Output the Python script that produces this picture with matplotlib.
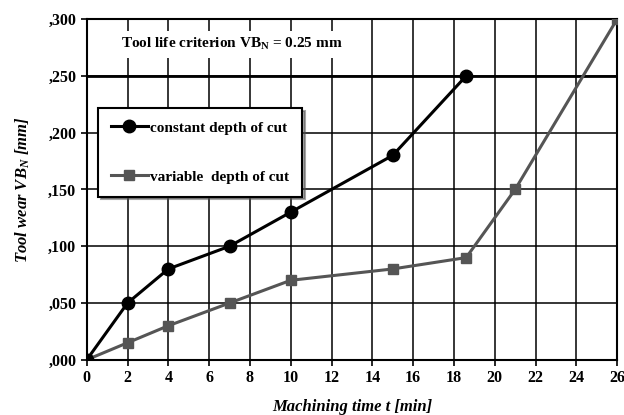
import matplotlib
matplotlib.use("Agg")
import matplotlib.pyplot as plt

# Tool wear data
time_const = [0, 2, 4, 7, 10, 15, 18.6]
wear_const = [0.0, 0.05, 0.08, 0.10, 0.13, 0.18, 0.25]

time_var = [0, 2, 4, 7, 10, 15, 18.6, 21, 26]
wear_var = [0.0, 0.015, 0.03, 0.05, 0.07, 0.08, 0.09, 0.15, 0.30]

x_ticks = list(range(0, 27, 2))
y_ticks = [0.0, 0.05, 0.10, 0.15, 0.20, 0.25, 0.30]
y_tick_labels = [",000", ",050", ",100", ",150", ",200", ",250", ",300"]

criterion = 0.25

plt.rcParams["font.family"] = ["Liberation Serif", "DejaVu Serif"]
plt.rcParams["font.weight"] = "bold"
plt.rcParams["mathtext.fontset"] = "custom"
plt.rcParams["mathtext.rm"] = "Liberation Serif"
plt.rcParams["mathtext.it"] = "Liberation Serif:italic:bold"
plt.rcParams["mathtext.bf"] = "Liberation Serif:bold"

fig = plt.figure(figsize=(6.24, 4.15), dpi=100)
ax = fig.add_axes([0.139, 0.133, 0.850, 0.821])

ax.plot(time_const, wear_const, color="black", lw=2.2, marker="o",
        markersize=9, label="constant depth of cut", zorder=4)
ax.plot(time_var, wear_var, color="#555555", lw=2.2, marker="s",
        markersize=7.5, label="variable  depth of cut", zorder=3)

ax.axhline(criterion, color="black", lw=2.0, zorder=2)
ax.text(1.7, 0.278, "Tool life criterion VB$_\\mathbf{N}$ = 0.25 mm",
        fontsize=11, fontweight="bold", va="center", ha="left",
        bbox=dict(facecolor="white", edgecolor="none", pad=4), zorder=2)

ax.set_xlim(0, 26)
ax.set_ylim(0, 0.30)
ax.set_xticks(x_ticks)
ax.set_yticks(y_ticks)
ax.set_yticklabels(y_tick_labels)
ax.grid(True, color="black", lw=1.1)
ax.set_axisbelow(True)
ax.tick_params(axis="both", labelsize=11.5, length=4, width=1.2, direction="out")
for lab in ax.get_xticklabels() + ax.get_yticklabels():
    lab.set_fontweight("bold")
for sp in ax.spines.values():
    sp.set_linewidth(1.5)

ax.set_xlabel("Machining time t [min]", fontsize=12, fontweight="bold",
              fontstyle="italic", labelpad=9)
ax.set_ylabel("Tool wear VB$_\\mathit{N}$ [mm]", fontsize=12, fontweight="bold",
              fontstyle="italic", labelpad=12)

leg = ax.legend(loc="upper left", bbox_to_anchor=(0.021, 0.739), fontsize=11,
                frameon=True, fancybox=False, shadow=True, edgecolor="black",
                borderpad=0.85, labelspacing=2.3, handlelength=2.4,
                handletextpad=0.15, borderaxespad=0)
leg.get_frame().set_linewidth(1.5)
leg.set_zorder(5)

fig.savefig("out.png", dpi=100)
plt.close(fig)
